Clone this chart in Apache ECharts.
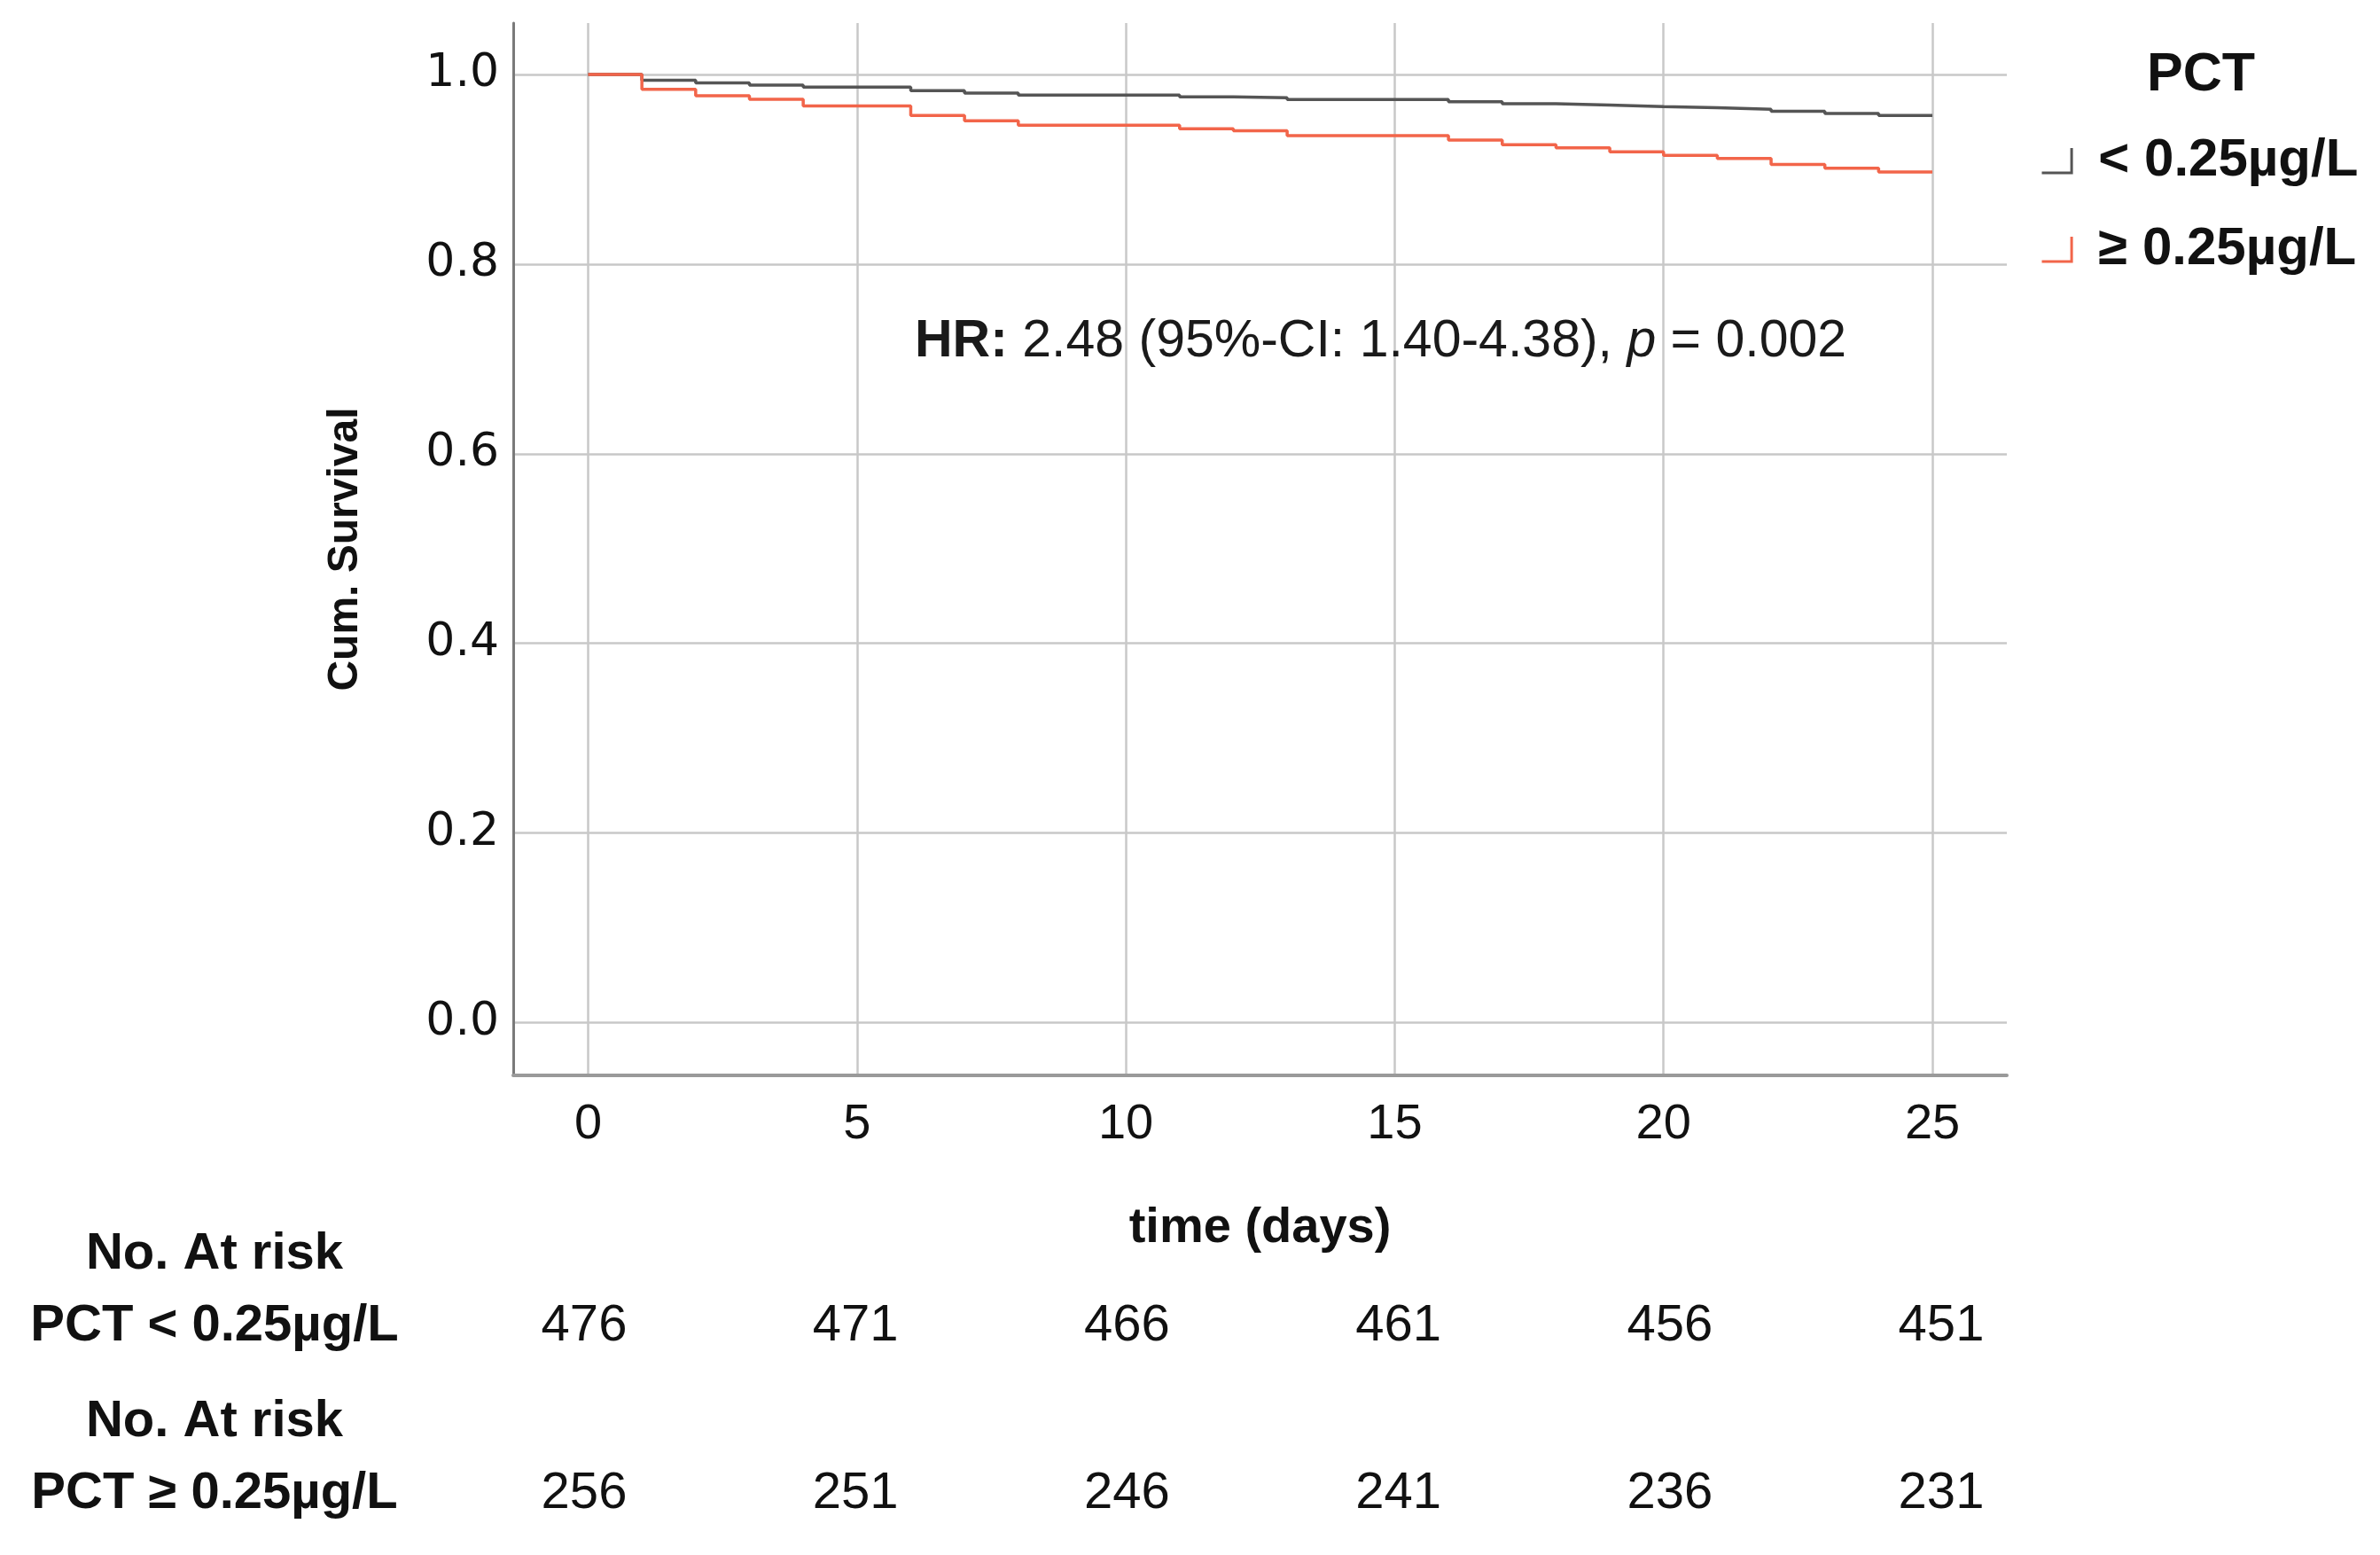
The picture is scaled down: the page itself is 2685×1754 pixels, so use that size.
<!DOCTYPE html>
<html><head><meta charset="utf-8">
<script src="https://cdn.jsdelivr.net/npm/echarts@6/dist/echarts.min.js"></script>
<style>html,body{margin:0;padding:0;background:#fff}#c{width:2685px;height:1754px}</style>
</head><body><div id="c"></div>
<script>
// ---- data ----
const days = [0,1,2,3,4,6,7,8,11,12,13,16,17,18,19,20,21,22,23,24,25];
const survLow = [1.0,0.9938,0.991,0.9888,0.9866,0.9829,0.9804,0.9782,0.9763,0.9755,0.9735,0.9713,0.9692,0.9676,0.966,0.9648,0.9633,0.9611,0.9589,0.9567,0.9567];
const survHigh = [1.0,0.9844,0.9776,0.9738,0.9667,0.9567,0.9511,0.9464,0.9427,0.9405,0.9355,0.9308,0.9259,0.9227,0.9184,0.9146,0.9115,0.905,0.9012,0.8972,0.8972];
const xTicks = [0,5,10,15,20,25];
const yTicks = [0,0.2,0.4,0.6,0.8,1.0];
const riskTimes = ['0','5','10','15','20','25'];
const riskLow = [476,471,466,461,456,451];
const riskHigh = [256,251,246,241,236,231];
const groupNames = ['< 0.25µg/L','≥ 0.25µg/L'];
const legendTitle = 'PCT';
const rowLabels = ['No. At risk','PCT < 0.25µg/L','No. At risk','PCT ≥ 0.25µg/L'];
const annotation = {hr: '2.48', ci: '1.40-4.38', p: '0.002'};

// ---- chart ----
const FONT = 'Liberation Sans';
const colLow = '#555555', colHigh = '#f2654a';
const rowPos = [1, 0.7, 0.3, 0];
const chart = echarts.init(document.getElementById('c'), null, {renderer: 'canvas'});
const option = {
  animation: false,
  backgroundColor: '#ffffff',
  title: [
    {text: legendTitle, left: 2422, top: 55, padding: 0,
     textStyle: {fontFamily: FONT, fontWeight: 'bold', fontSize: 61, lineHeight: 61, color: '#111'}},
    {text: '{b|HR:} ' + annotation.hr + ' (95%-CI: ' + annotation.ci + '), {i|p} = ' + annotation.p,
     left: 1032, top: 356, padding: 0,
     textStyle: {fontFamily: FONT, fontWeight: 'normal', fontSize: 59, lineHeight: 59, color: '#1a1a1a',
       rich: {b: {fontFamily: FONT, fontWeight: 'bold', fontSize: 59, lineHeight: 59, color: '#1a1a1a'},
              i: {fontFamily: FONT, fontStyle: 'italic', fontSize: 59, lineHeight: 59, color: '#1a1a1a'}}}}
  ],
  legend: {
    orient: 'vertical', left: 2302, top: 151, padding: 0,
    itemWidth: 36, itemHeight: 28, itemGap: 40,
    icon: 'path://M0,30L36,30L36,0',
    textStyle: {fontFamily: FONT, fontWeight: 'bold', fontSize: 60, lineHeight: 28, color: '#111', padding: [0,0,0,24]},
    data: [
      {name: groupNames[0], itemStyle: {color: 'rgba(0,0,0,0)', borderColor: colLow, borderWidth: 3}},
      {name: groupNames[1], itemStyle: {color: 'rgba(0,0,0,0)', borderColor: colHigh, borderWidth: 3}}
    ]
  },
  grid: [
    {left: 579, right: 421, top: 26, bottom: 541, containLabel: false},
    {left: 659, right: 495, top: 1415, bottom: 69, containLabel: false}
  ],
  xAxis: [
    {type: 'value', gridIndex: 0, min: -1.393, max: 26.384,
     name: 'time (days)', nameLocation: 'middle', nameGap: 145,
     nameTextStyle: {fontFamily: FONT, fontWeight: 'bold', fontSize: 56, color: '#111'},
     axisLine: {show: true, onZero: false, lineStyle: {color: '#9a9a9a', width: 4}},
     axisTick: {show: false, customValues: xTicks},
     axisLabel: {customValues: xTicks, fontFamily: FONT, fontSize: 56, lineHeight: 56, margin: 28, color: '#111'},
     splitLine: {show: true, lineStyle: {color: '#c8c8c8', width: 2.5}}},
    {type: 'category', gridIndex: 1, data: riskTimes, boundaryGap: false,
     axisLine: {show: false}, axisTick: {show: false}, axisLabel: {show: false}, splitLine: {show: false}}
  ],
  yAxis: [
    {type: 'value', gridIndex: 0, min: -0.0556, max: 1.0542,
     name: 'Cum. Survival', nameLocation: 'middle', nameGap: 165,
     nameTextStyle: {fontFamily: FONT, fontWeight: 'bold', fontSize: 48, color: '#111'},
     axisLine: {show: true, onZero: false, lineStyle: {color: '#7a7a7a', width: 3}},
     axisTick: {show: false, customValues: yTicks},
     axisLabel: {customValues: yTicks, fontFamily: 'DejaVu Sans', fontSize: 52, margin: 16, color: '#111',
       formatter: v => Number(v).toFixed(1)},
     splitLine: {show: true, lineStyle: {color: '#c8c8c8', width: 2.5}}},
    {type: 'value', gridIndex: 1, min: 0, max: 1,
     axisLine: {show: false}, axisTick: {show: false, customValues: rowPos}, splitLine: {show: false},
     axisLabel: {customValues: rowPos, margin: 417, align: 'center', fontFamily: FONT, fontWeight: 'bold', fontSize: 58, color: '#111',
       formatter: v => rowLabels[rowPos.indexOf(Number(v))] || ''}}
  ],
  series: [
    {name: groupNames[0], type: 'line', xAxisIndex: 0, yAxisIndex: 0, step: 'end', showSymbol: false, symbol: 'none',
     lineStyle: {color: colLow, width: 3.5}, itemStyle: {color: colLow},
     data: days.map((d, i) => [d, survLow[i]])},
    {name: groupNames[1], type: 'line', xAxisIndex: 0, yAxisIndex: 0, step: 'end', showSymbol: false, symbol: 'none',
     lineStyle: {color: colHigh, width: 3.5}, itemStyle: {color: colHigh},
     data: days.map((d, i) => [d, survHigh[i]])},
    {type: 'scatter', xAxisIndex: 1, yAxisIndex: 1, symbolSize: 1, silent: true,
     itemStyle: {color: 'rgba(0,0,0,0)', opacity: 1},
     label: {show: true, position: 'inside', formatter: p => String(p.value[2]), fontFamily: FONT, fontSize: 58, color: '#111', opacity: 1},
     data: riskLow.map((v, i) => [i, rowPos[1], v]).concat(riskHigh.map((v, i) => [i, rowPos[3], v]))}
  ]
};
chart.setOption(option);
</script></body></html>
